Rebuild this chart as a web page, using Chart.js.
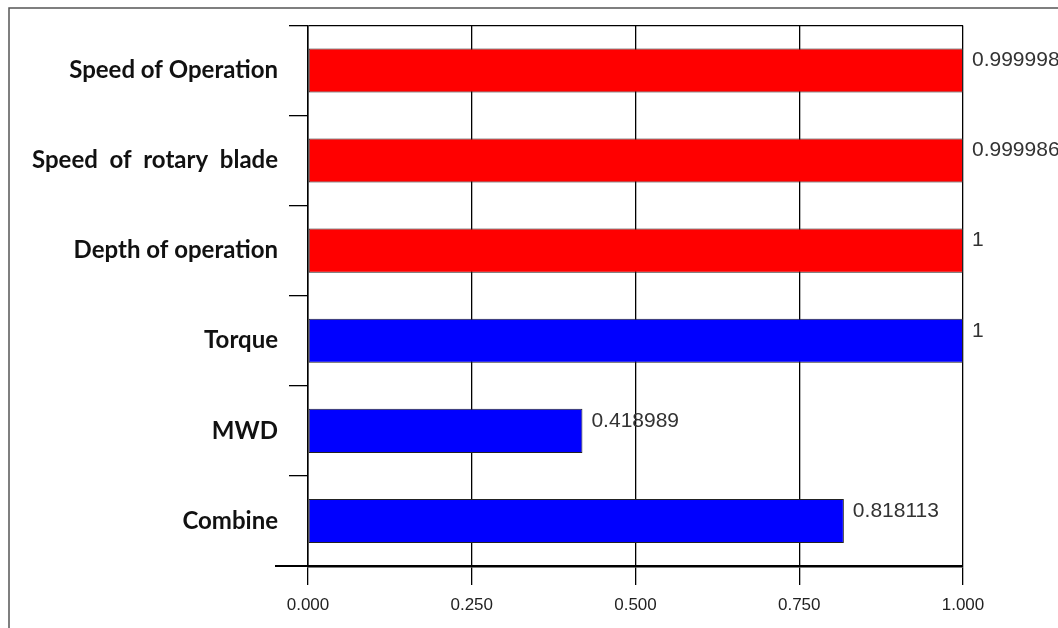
<!DOCTYPE html>
<html>
<head>
<meta charset="utf-8">
<script src="https://cdn.jsdelivr.net/npm/chart.js@4/dist/chart.umd.min.js"></script>
<style>
  html, body { margin: 0; padding: 0; background: #fff; }
  #wrap { width: 1058px; height: 628px; position: relative; }
</style>
</head>
<body>
<div id="wrap"><canvas id="c" width="1058" height="628"></canvas></div>
<script>
const categories = ["Speed of Operation", "Speed  of  rotary  blade", "Depth of operation", "Torque", "MWD", "Combine"];
const values = [0.999998, 0.999986, 1, 1, 0.418989, 0.818113];
const valueLabels = ["0.999998", "0.999986", "1", "1", "0.418989", "0.818113"];
const barColors = ["#ff0000", "#ff0000", "#ff0000", "#0000ff", "#0000ff", "#0000ff"];
const xTicks = [0, 0.25, 0.5, 0.75, 1.0];

const framePlugin = {
  id: 'frame',
  beforeDraw(chart) {
    const ctx = chart.ctx;
    ctx.save();
    ctx.fillStyle = '#fff';
    ctx.fillRect(0, 0, chart.width, chart.height);
    ctx.strokeStyle = '#555';
    ctx.lineWidth = 1.5;
    ctx.beginPath();
    ctx.moveTo(9, chart.height);
    ctx.lineTo(9, 8);
    ctx.lineTo(chart.width, 8);
    ctx.stroke();
    ctx.restore();
  },
  afterDraw(chart) {
    const ctx = chart.ctx;
    const a = chart.chartArea;
    ctx.save();
    ctx.strokeStyle = '#000';
    ctx.lineWidth = 2;
    ctx.beginPath();
    ctx.moveTo(a.left - 33, a.bottom);
    ctx.lineTo(a.left, a.bottom);
    ctx.stroke();
    ctx.restore();
  }
};

const valueLabelPlugin = {
  id: 'valueLabels',
  afterDatasetsDraw(chart) {
    const ctx = chart.ctx;
    const meta = chart.getDatasetMeta(0);
    ctx.save();
    ctx.font = '21px "Liberation Sans", Arial, sans-serif';
    ctx.fillStyle = '#333';
    ctx.textAlign = 'left';
    ctx.textBaseline = 'middle';
    meta.data.forEach((bar, i) => {
      ctx.fillText(valueLabels[i], bar.x + 9, bar.y - 10);
    });
    ctx.restore();
  }
};

new Chart(document.getElementById('c'), {
  type: 'bar',
  data: {
    labels: categories,
    datasets: [{
      data: values,
      backgroundColor: barColors,
      borderColor: '#222',
      borderWidth: 1,
      borderSkipped: false,
      barPercentage: 0.49,
      categoryPercentage: 1.0
    }]
  },
  options: {
    indexAxis: 'y',
    responsive: false,
    animation: false,
    devicePixelRatio: 1,
    layout: { padding: { top: 24, right: 95, left: 0, bottom: 0 } },
    plugins: { legend: { display: false }, tooltip: { enabled: false } },
    scales: {
      x: {
        min: 0, max: 1,
        afterBuildTicks(scale) { scale.ticks = xTicks.map(v => ({ value: v })); },
        afterFit(scale) { scale.height = 62; },
        grid: { color: '#000', lineWidth: 1.3, tickLength: 19, tickColor: '#000' },
        border: { color: '#000', width: 2.5 },
        ticks: {
          color: '#222',
          padding: 10,
          font: { family: '"Liberation Sans Narrow", "Liberation Sans", Arial, sans-serif', size: 17 },
          callback: (v) => Number(v).toFixed(3)
        }
      },
      y: {
        afterFit(scale) { scale.width = 308; },
        grid: {
          offset: true,
          tickLength: 19,
          tickColor: '#000',
          lineWidth: 1.3,
          color: (c) => (c.index === 0 ? '#000' : 'rgba(0,0,0,0)')
        },
        border: { color: '#000', width: 1.5 },
        ticks: {
          color: '#111',
          padding: 11,
          crossAlign: 'near',
          font: { family: 'Lato, "Open Sans", sans-serif', size: 24, weight: 'bold' }
        }
      }
    }
  },
  plugins: [framePlugin, valueLabelPlugin]
});
</script>
</body>
</html>
